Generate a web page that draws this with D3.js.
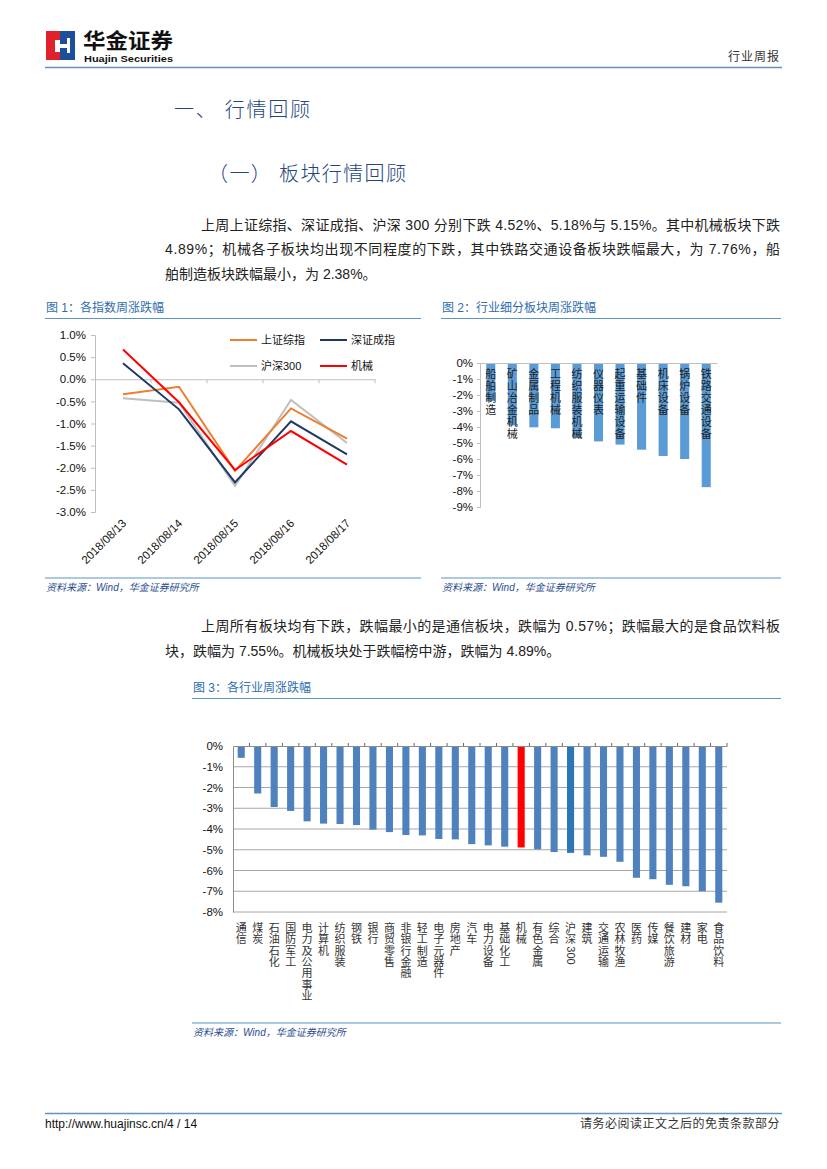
<!DOCTYPE html>
<html><head><meta charset="utf-8">
<script src="https://cdn.jsdelivr.net/npm/d3@7"></script>
<style>
html,body{margin:0;padding:0;background:#fff;}
svg{display:block;}
text{font-family:"Liberation Sans","Noto Sans CJK SC",Arial,sans-serif;}
</style></head>
<body>
<svg id="page" width="827" height="1169"></svg>
<script>
// ---------- data ----------
const dates1 = ["2018/08/13","2018/08/14","2018/08/15","2018/08/16","2018/08/17"];
const seriesNames1 = ["上证综指","深证成指","沪深300","机械"];
const shValues = [-0.34,-0.17,-2.07,-0.66,-1.34];
const szValues = [0.36,-0.68,-2.33,-0.95,-1.70];
const hs300Values = [-0.43,-0.53,-2.41,-0.47,-1.44];
const jxValues = [0.67,-0.52,-2.05,-1.17,-1.93];
const yTicks1 = [1.0,0.5,0.0,-0.5,-1.0,-1.5,-2.0,-2.5,-3.0];

const subCats = ["船舶制造","矿山冶金机械","金属制品","工程机械","纺织服装机械","仪器仪表","起重运输设备","基础件","机床设备","锅炉设备","铁路交通设备"];
const subValues = [-2.38,-3.90,-4.02,-4.08,-4.69,-4.90,-5.10,-5.42,-5.81,-6.00,-7.76];
const yTicks2 = [0,-1,-2,-3,-4,-5,-6,-7,-8,-9];

const indCats = ["通信","煤炭","石油石化","国防军工","电力及公用事业","计算机","纺织服装","钢铁","银行","商贸零售","非银行金融","轻工制造","电子元器件","房地产","汽车","电力设备","基础化工","机械","有色金属","综合","沪深300","建筑","交通运输","农林牧渔","医药","传媒","餐饮旅游","建材","家电","食品饮料"];
const indValues = [-0.57,-2.29,-2.94,-3.13,-3.63,-3.74,-3.76,-3.81,-4.03,-4.15,-4.29,-4.31,-4.48,-4.50,-4.73,-4.79,-4.85,-4.89,-4.98,-5.11,-5.15,-5.27,-5.34,-5.58,-6.35,-6.42,-6.69,-6.76,-7.00,-7.55];
const yTicks3 = [0,-1,-2,-3,-4,-5,-6,-7,-8];

// ---------- page ----------
const svg = d3.select("#page");
const blueLine = "#5b93c6";

// logo
const logo = svg.append("g");
logo.append("rect").attr("x",46).attr("y",31).attr("width",14).attr("height",29).attr("fill","#e0202a");
logo.append("rect").attr("x",60).attr("y",31).attr("width",15).attr("height",29).attr("fill","#1b4f9c");
logo.append("path").attr("d","M55,40 L60,40 L60,44 L67,44 L67,38 L70,38 L70,53 L67,53 L67,48 L60,48 L60,52 L55,52 Z").attr("fill","#fff");
svg.append("text").attr("x",83).attr("y",48).attr("font-size",21).attr("font-weight","bold").attr("fill","#111")
  .attr("textLength",90).attr("lengthAdjust","spacingAndGlyphs").text("华金证券");
svg.append("text").attr("x",84).attr("y",62).attr("font-size",9.5).attr("font-weight","bold").attr("fill","#111")
  .attr("textLength",89).attr("lengthAdjust","spacingAndGlyphs").text("Huajin Securities");
svg.append("text").attr("x",780).attr("y",61).attr("text-anchor","end").attr("font-size",12).attr("fill","#333")
  .attr("letter-spacing",1).text("行业周报");
svg.append("line").attr("x1",45).attr("x2",782).attr("y1",67.5).attr("y2",67.5).attr("stroke",blueLine).attr("stroke-width",1.5);

// headings
svg.append("text").attr("x",174).attr("y",117).attr("font-size",20).attr("fill","#24457f").attr("font-weight",300)
  .attr("textLength",136).attr("lengthAdjust","spacing").text("一、 行情回顾");
svg.append("text").attr("x",208).attr("y",181).attr("font-size",20).attr("fill","#24457f").attr("font-weight",300)
  .attr("textLength",198).attr("lengthAdjust","spacing").text("（一）  板块行情回顾");

// paragraphs
function para(x, y, w, str){
  const t = svg.append("text").attr("x",x).attr("y",y).attr("font-size",14).attr("fill","#222").text(str);
  if(w) t.attr("textLength",w).attr("lengthAdjust","spacing");
}
para(201,230,579,"上周上证综指、深证成指、沪深 300 分别下跌 4.52%、5.18%与 5.15%。其中机械板块下跌");
para(165,254,615,"4.89%；机械各子板块均出现不同程度的下跌，其中铁路交通设备板块跌幅最大，为 7.76%，船");
para(165,279,null,"舶制造板块跌幅最小，为 2.38%。");
para(201,631,579,"上周所有板块均有下跌，跌幅最小的是通信板块，跌幅为 0.57%；跌幅最大的是食品饮料板");
para(165,656,null,"块，跌幅为 7.55%。机械板块处于跌幅榜中游，跌幅为 4.89%。");

// chart titles & source lines
function chartFrame(x1, x2, titleY, srcY, title){
  svg.append("text").attr("x",x1+1).attr("y",titleY).attr("font-size",12).attr("fill","#2f6db0").text(title);
  svg.append("line").attr("x1",x1).attr("x2",x2).attr("y1",titleY+6.5).attr("y2",titleY+6.5).attr("stroke",blueLine).attr("stroke-width",1.2);
  svg.append("line").attr("x1",x1).attr("x2",x2).attr("y1",srcY).attr("y2",srcY).attr("stroke",blueLine).attr("stroke-width",1.2);
  svg.append("text").attr("x",x1+1).attr("y",srcY+13).attr("font-size",10).attr("font-style","italic").attr("fill","#2a4d8f")
    .text("资料来源：Wind，华金证券研究所");
}
chartFrame(45,421,312,578,"图 1：各指数周涨跌幅");
chartFrame(441,781,312,578,"图 2：行业细分板块周涨跌幅");
chartFrame(192,781,692,1023,"图 3：各行业周涨跌幅");

// ---------- chart 1 ----------
{
  const x = d3.scaleBand().domain(dates1).range([95,375]);
  const y = d3.scaleLinear().domain([-3,1]).range([512,335]);
  const g = svg.append("g");
  const yAxis = d3.axisLeft(y).tickValues(yTicks1).tickSize(4).tickFormat(d => d.toFixed(1)+"%");
  const ya = g.append("g").attr("transform","translate(95,0)").call(yAxis);
  ya.select(".domain").attr("stroke","#bfbfbf");
  ya.selectAll(".tick line").attr("stroke","#bfbfbf");
  ya.selectAll(".tick text").attr("font-size",11.5).attr("fill","#111").attr("x",-9)
    .attr("font-family","Liberation Sans, Arial, sans-serif");
  const xa = g.append("g").attr("transform",`translate(0,${y(0)})`)
    .call(d3.axisBottom(x).tickSize(0).tickFormat(""));
  xa.select(".domain").attr("stroke","#bfbfbf");
  x.domain().forEach(d=>{
    g.append("line").attr("x1",x(d)+x.bandwidth()).attr("x2",x(d)+x.bandwidth())
      .attr("y1",y(0)).attr("y2",y(0)+4).attr("stroke","#bfbfbf");
  });
  dates1.forEach(d=>{
    g.append("text").attr("transform",`translate(${x(d)+x.bandwidth()/2+4},${524}) rotate(-45)`)
      .attr("text-anchor","end").attr("font-size",11.5).attr("fill","#111").text(d);
  });
  const cols = ["#ed7d31","#203864","#bfbfbf","#ff0000"];
  const vals = [shValues, szValues, hs300Values, jxValues];
  const line = d3.line().x((v,i)=>x(dates1[i])+x.bandwidth()/2).y(v=>y(v));
  [2,0,1,3].forEach(k=>{
    g.append("path").datum(vals[k]).attr("d",line).attr("fill","none").attr("stroke",cols[k]).attr("stroke-width",2);
  });
  const leg = [[230,340],[320,340],[230,366],[320,366]];
  seriesNames1.forEach((n,k)=>{
    g.append("line").attr("x1",leg[k][0]).attr("x2",leg[k][0]+27).attr("y1",leg[k][1]).attr("y2",leg[k][1])
      .attr("stroke",cols[k]).attr("stroke-width",2);
    g.append("text").attr("x",leg[k][0]+31).attr("y",leg[k][1]+4).attr("font-size",11).attr("fill","#111").text(n);
  });
}

// ---------- chart 2 ----------
{
  const x = d3.scaleBand().domain(subCats).range([480,717]).paddingInner(0.58).paddingOuter(0.29);
  const y = d3.scaleLinear().domain([-9,0]).range([507,363]);
  const g = svg.append("g");
  g.selectAll("rect").data(subCats).enter().append("rect")
    .attr("x",d=>x(d)).attr("width",x.bandwidth())
    .attr("y",y(0)).attr("height",(d,i)=>y(subValues[i])-y(0)).attr("fill","#5b9bd5");
  const ya = g.append("g").attr("transform","translate(480,0)")
    .call(d3.axisLeft(y).tickValues(yTicks2).tickSize(3).tickFormat(d=>d+"%"));
  ya.select(".domain").attr("stroke","#bfbfbf");
  ya.selectAll(".tick line").attr("stroke","#bfbfbf");
  ya.selectAll(".tick text").attr("font-size",11.5).attr("fill","#111").attr("x",-7);
  const xa = g.append("g").attr("transform",`translate(0,${y(0)})`).call(d3.axisBottom(x).tickSize(0).tickFormat(""));
  xa.select(".domain").attr("stroke","#bfbfbf");
  subCats.forEach(d=>{
    const cx = x(d)+x.bandwidth()/2;
    Array.from(d).forEach((ch,j)=>{
      g.append("text").attr("x",cx).attr("y",y(0)+15+j*12).attr("text-anchor","middle")
        .attr("font-size",11).attr("fill","#222").text(ch);
    });
  });
}

// ---------- chart 3 ----------
{
  const x = d3.scaleBand().domain(indCats).range([233,727]).paddingInner(0.57).paddingOuter(0.285);
  const y = d3.scaleLinear().domain([-8,0]).range([912,746]);
  const g = svg.append("g");
  g.selectAll("line.grid").data(yTicks3.filter(v=>v!==0)).enter().append("line")
    .attr("x1",233).attr("x2",727).attr("y1",d=>y(d)).attr("y2",d=>y(d)).attr("stroke","#a6a6a6").attr("stroke-width",1);
  g.selectAll("rect").data(indCats).enter().append("rect")
    .attr("x",d=>x(d)).attr("width",x.bandwidth())
    .attr("y",y(0)).attr("height",(d,i)=>y(indValues[i])-y(0))
    .attr("fill",d=> d==="机械" ? "#ff0000" : (d==="沪深300" ? "#2e75b6" : "#4f81bd"));
  const ya = g.append("g").attr("transform","translate(233,0)")
    .call(d3.axisLeft(y).tickValues(yTicks3).tickSize(0).tickFormat(d=>d+"%"));
  ya.select(".domain").attr("stroke","#8c8c8c");
  ya.selectAll(".tick text").attr("font-size",11.5).attr("fill","#111").attr("x",-10);
  const xa = g.append("g").attr("transform",`translate(0,${y(0)})`).call(d3.axisBottom(x).tickSize(0).tickFormat(""));
  xa.select(".domain").attr("stroke","#8c8c8c");
  indCats.forEach(d=>{
    const xb = x(d) - x.step()*x.paddingInner()/2 + x.step();
    g.append("line").attr("x1",xb).attr("x2",xb).attr("y1",y(0)-3).attr("y2",y(0)).attr("stroke","#666");
  });
  const labelTop = y(-8) + 20;
  indCats.forEach(d=>{
    const cx = x(d)+x.bandwidth()/2;
    const m = d.match(/^(.*?)(\d+)$/);
    const chars = m ? Array.from(m[1]) : Array.from(d);
    chars.forEach((ch,j)=>{
      g.append("text").attr("x",cx).attr("y",labelTop + j*11.3)
        .attr("text-anchor","middle").attr("font-size",11).attr("fill","#333").text(ch);
    });
    if(m){
      const yStart = labelTop + (chars.length-1)*11.3 + 3;
      g.append("text").attr("transform",`translate(${cx-4},${yStart}) rotate(90)`)
        .attr("font-size",11).attr("fill","#333").text(m[2]);
    }
  });
}

// footer
svg.append("line").attr("x1",45).attr("x2",782).attr("y1",1113.5).attr("y2",1113.5).attr("stroke",blueLine).attr("stroke-width",1.5);
svg.append("text").attr("x",45).attr("y",1128).attr("font-size",12).attr("fill","#111").text("http://www.huajinsc.cn/4 / 14");
svg.append("text").attr("x",780).attr("y",1128).attr("text-anchor","end").attr("font-size",12).attr("fill","#333")
  .attr("letter-spacing",0.5).text("请务必阅读正文之后的免责条款部分");
</script>
</body></html>
